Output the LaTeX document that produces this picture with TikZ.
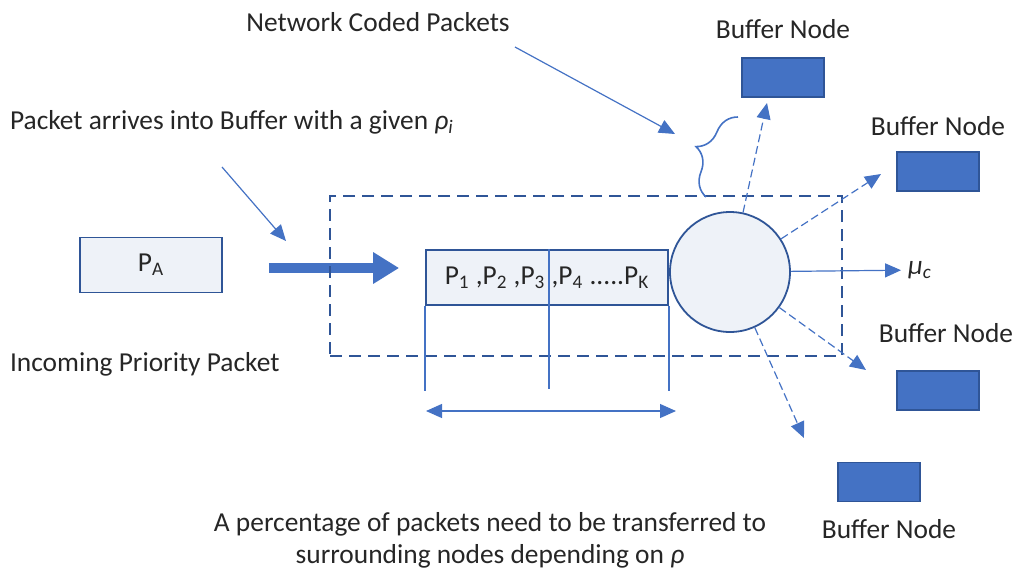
\documentclass[tikz,border=0pt]{standalone}
\usepackage{fontspec}
\setmainfont{Carlito}
\usetikzlibrary{arrows.meta,decorations.pathreplacing}
\definecolor{lineblue}{HTML}{4472C4}
\definecolor{darkblue}{HTML}{2F5597}
\definecolor{paleblue}{HTML}{EEF2F8}
\begin{document}
\begin{tikzpicture}[
    x=0.5pt, y=-0.5pt,
    font=\fontsize{13.7}{16}\selectfont, text=black!85,
    pkt/.style={rectangle, draw=darkblue, line width=0.9pt, fill=paleblue, minimum height=27.5pt, inner sep=0pt},
    buf/.style={rectangle, draw=darkblue, line width=0.6pt, fill=lineblue, minimum width=41pt, minimum height=19.5pt, inner sep=0pt},
    arr/.style={-{Triangle[length=8pt,width=7pt]}, lineblue, line width=0.6pt},
    darr/.style={arr, dash pattern=on 4pt off 2pt},
    dim/.style={{Triangle[length=8pt,width=7pt]}-{Triangle[length=8pt,width=7pt]}, lineblue, line width=0.6pt},
    big/.style={-{Triangle[length=13pt,width=15pt]}, lineblue, line width=5pt},
    guide/.style={lineblue, line width=0.7pt},
]
\useasboundingbox (0,0) rectangle (1019,575);
\node[pkt, minimum width=71pt] (pa) at (151,265) {P\textsubscript{A}};
\node[pkt, minimum width=121pt] (queue) at (547,277.5) {P\textsubscript{1} ,P\textsubscript{2} ,P\textsubscript{3} ,P\textsubscript{4} .....P\textsubscript{K}};
\node[circle, draw=darkblue, line width=0.9pt, fill=paleblue, minimum size=60pt, inner sep=0pt] (srv) at (730,272) {};
\draw[big, shorten <=23pt, shorten >=13pt] ([yshift=-1.5pt]pa.east) -- ([yshift=-1.5pt]pa.east -| queue.west);
\node[draw=darkblue, line width=1.2pt, dash pattern=on 6pt off 3.5pt, minimum width=256pt, minimum height=80pt] (sys) at (586,276) {};
\draw[guide] (queue.south west) -- ++(0,85);
\draw[guide] ([xshift=1pt]queue.north) -- ++(0,140);
\draw[guide] (queue.south east) -- ++(0,85);
\coordinate (dl) at (426,411);
\coordinate (dr) at (676,411);
\draw[dim] (dl) -- (dr);
\node (mu) at (920,270) {\textit{μ}\textsubscript{\textit{c}}};
\draw[arr] (srv) -- (mu);
\node[buf] (b1) at (783,77.5) {};
\node[buf] (b2) at (938,171.5) {};
\node[buf] (b3) at (938,390.5) {};
\node[buf] (b4) at (879,482) {};
\node (b1l) at (783,29) {Buffer Node};
\node (b2l) at (938,126) {Buffer Node};
\node (b3l) at (946,333) {Buffer Node};
\node (b4l) at (889,529) {Buffer Node};
\coordinate (t1) at (767,103);
\coordinate (t2) at (881,174);
\coordinate (t3) at (866,370);
\coordinate (t4) at (804,438);
\draw[darr] (srv) -- (t1);
\draw[darr] (srv) -- (t2);
\draw[darr] (srv) -- (t3);
\draw[darr] (srv) -- (t4);
\node (ncp) at (378,22) {Network Coded Packets};
\coordinate (n0) at (515,47);
\coordinate (n1) at (675,134);
\draw[arr] (n0) -- (n1);
\coordinate (br0) at (706,197);
\coordinate (br1) at (738,117);
\draw[lineblue, line width=0.8pt, decorate, decoration={brace, amplitude=14pt}] (br0) -- (br1);
\node[anchor=west] (arrive) at (3,122) {Packet arrives into Buffer with a given \textit{ρ}\textsubscript{\textit{i}}};
\coordinate (a0) at (222,167);
\coordinate (a1) at (286,241);
\draw[arr] (a0) -- (a1);
\node[anchor=west] (incoming) at (3,364) {Incoming Priority Packet};
\node[align=center] (note) at (490,540) {A percentage of packets need to be transferred to\\surrounding nodes depending on \textit{ρ}};
\end{tikzpicture}
\end{document}
